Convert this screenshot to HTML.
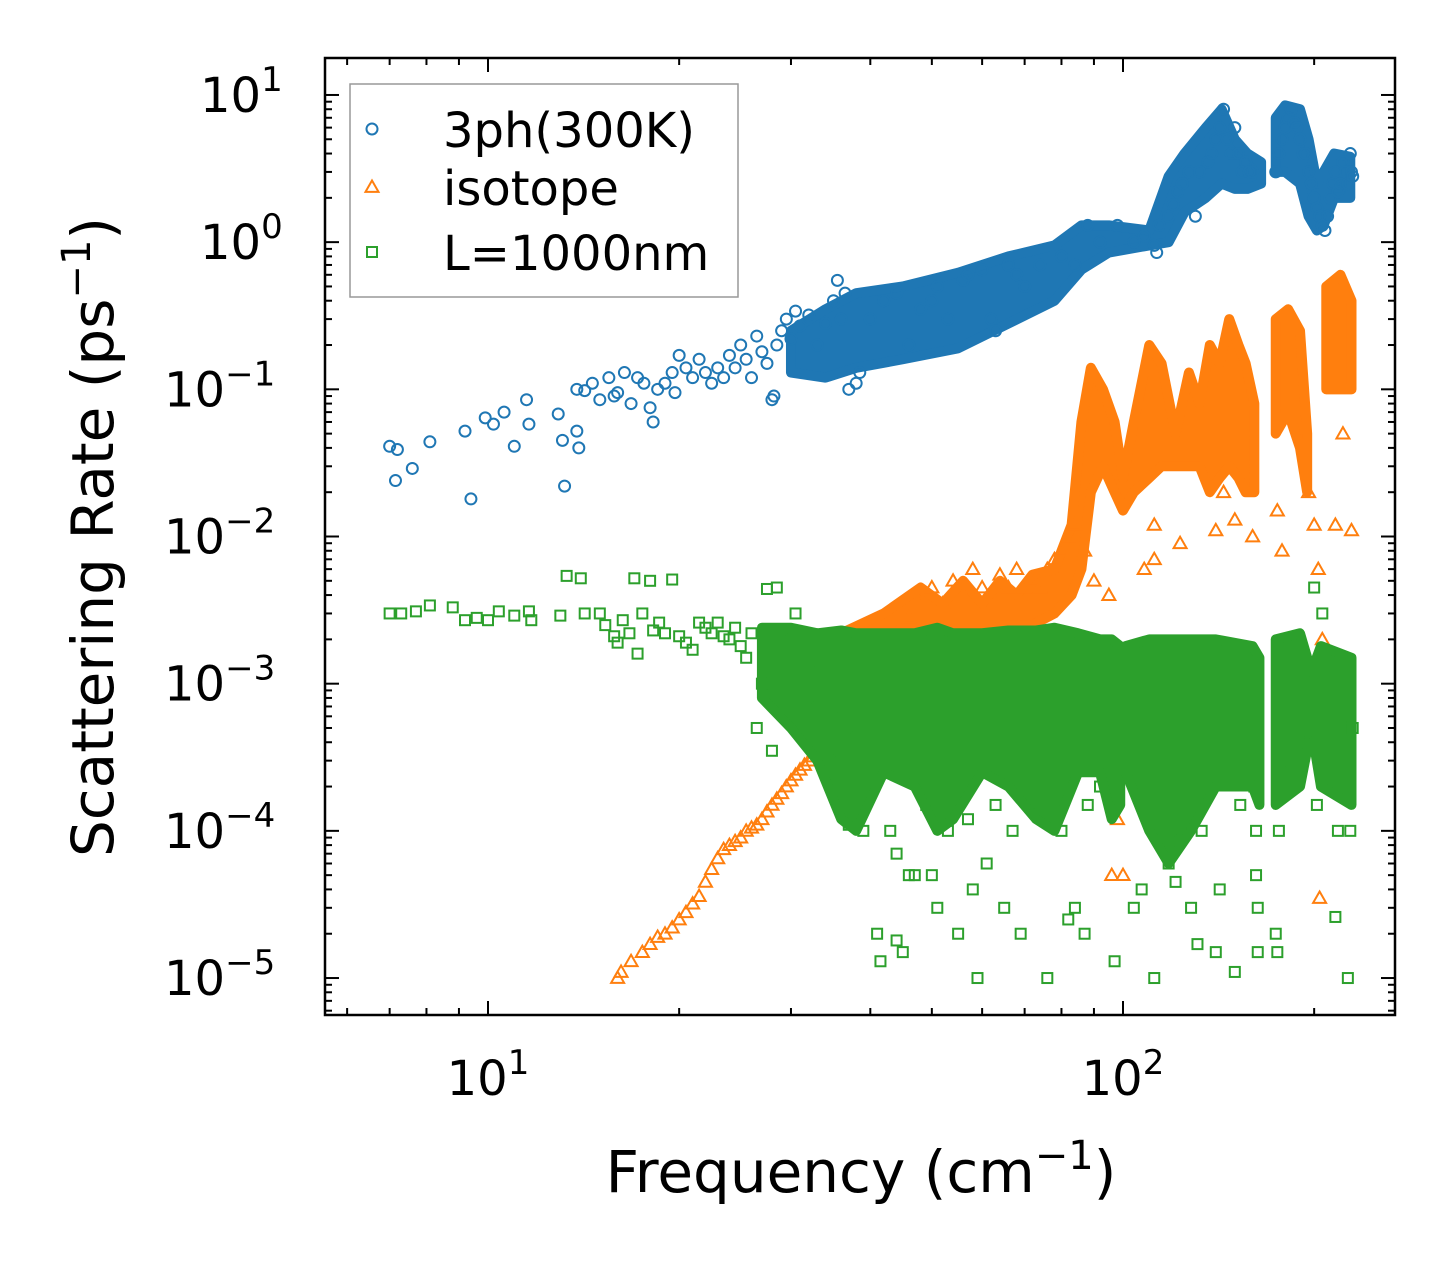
<!DOCTYPE html>
<html><head><meta charset="utf-8"><style>
body{margin:0;background:#fff;}
svg text{font-family:"DejaVu Sans","Liberation Sans",sans-serif;fill:#000;}
</style></head><body>
<svg id="chart" width="1455" height="1265" xmlns="http://www.w3.org/2000/svg">
<rect width="1455" height="1265" fill="#fff"/>
<g id="plot"></g>
<g id="axes"></g>
</svg>
<script>
const xTicksMajor = [10, 100];
const yTicksMajor = [1, 0, -1, -2, -3, -4, -5];
const threePh = [[7.0,0.041],[7.2,0.039],[7.15,0.024],[7.6,0.029],[8.1,0.044],[9.2,0.052],[9.4,0.018],[9.9,0.064],[10.2,0.058],[10.6,0.07],[11,0.041],[11.5,0.085],[11.6,0.058],[12.9,0.068],[13.1,0.045],[13.2,0.022],[13.8,0.052],[13.9,0.04],[13.8,0.1],[14.2,0.098],[14.6,0.11],[15,0.085],[15.5,0.12],[15.8,0.09],[16,0.095],[16.4,0.13],[16.8,0.08],[17.2,0.12],[17.6,0.11],[18,0.075],[18.2,0.06],[18.5,0.1],[19,0.11],[19.5,0.13],[19.7,0.095],[20,0.17],[20.5,0.14],[21,0.12],[21.5,0.16],[22,0.13],[22.5,0.11],[23,0.14],[23.5,0.12],[24,0.17],[24.5,0.14],[25,0.2],[25.5,0.16],[26,0.12],[26.5,0.23],[27,0.18],[27.5,0.15],[28,0.085],[28.2,0.09],[28.5,0.2],[29,0.25],[29.5,0.3],[30,0.22],[30.5,0.34],[31,0.27],[32,0.32],[33,0.2],[34,0.28],[35,0.4],[35.5,0.55],[36,0.3],[36.5,0.45],[37,0.1],[38,0.11],[38.5,0.13],[40,0.3],[42,0.4],[44,0.45],[46,0.2],[48,0.35],[50,0.4],[51,0.5],[53,0.3],[56,0.55],[57,0.6],[60,0.65],[62,0.3],[63,0.25],[66,0.7],[68,0.6],[70,0.5],[74,0.7],[80,0.8],[84,0.7],[88,1.3],[92,1.0],[98,1.3],[104,1.0],[108,1.1],[112,0.95],[113,0.85],[114,1.3],[118,1.5],[120,1.8],[122,2.2],[124,2.5],[127,3.0],[130,1.5],[132,3.0],[136,3.5],[138,4.0],[140,5.0],[142,6.0],[144,8.0],[146,5.0],[148,4.0],[150,6.0],[152,4.0],[154,3.0],[156,3.5],[158,3.0],[160,3.0],[174,3],[176,4],[178,5],[180,6],[182,7],[184,8],[186,6.5],[188,6],[190,5],[192,4],[194,4],[196,3],[198,2.5],[200,2],[202,1.7],[204,1.5],[206,1.3],[208,1.2],[210,1.5],[212,2],[214,2.5],[216,3],[218,2.2],[220,2.5],[222,3.5],[224,3],[226,2.5],[228,4],[229,3],[230,2.8]];
const isotope = [[16,1e-5],[16.2,1.1e-5],[16.8,1.3e-5],[17.5,1.5e-5],[18,1.7e-5],[18.5,1.9e-5],[19,2e-5],[19.5,2.2e-5],[20,2.5e-5],[20.5,2.8e-5],[21,3.2e-5],[21.5,3.6e-5],[22,4.5e-5],[22.5,5.5e-5],[23,6.5e-5],[23.5,7.5e-5],[24,8e-5],[24.5,8.5e-5],[25,9e-5],[25.5,1e-4],[26,1.05e-4],[26.5,1.1e-4],[27,1.2e-4],[27.5,1.35e-4],[28,1.5e-4],[28.5,1.65e-4],[29,1.8e-4],[29.5,2e-4],[30,2.2e-4],[30.5,2.4e-4],[31,2.6e-4],[31.5,2.8e-4],[32,3e-4],[32.5,3.2e-4],[33,3.5e-4],[33.5,3.8e-4],[34,4e-4],[34.5,4.5e-4],[35,5e-4],[35.5,6e-4],[36,7e-4],[36.5,8e-4],[37,9e-4],[37.5,1e-3],[38,1.1e-3],[40,1.4e-3],[42,1.8e-3],[44,2.2e-3],[46,2.8e-3],[48,3.5e-3],[50,4.5e-3],[52,3.5e-3],[54,5e-3],[56,4e-3],[58,6e-3],[60,4.5e-3],[62,4e-3],[64,5.5e-3],[66,4.5e-3],[68,6e-3],[70,4.5e-3],[72,5e-3],[74,4.5e-3],[76,6e-3],[78,7e-3],[80,8e-3],[82,1e-2],[84,0.012],[87,8e-3],[90,5e-3],[95,4e-3],[108,6e-3],[112,1.2e-2],[112,7e-3],[123,9e-3],[140,1.1e-2],[144,2e-2],[150,1.3e-2],[160,1e-2],[175,0.015],[178,0.008],[203,6e-3],[206,2e-3],[216,1.2e-2],[222,5e-2],[229,1.1e-2],[200,0.012],[196,0.02],[85,1e-3],[90,3e-4],[98,1.2e-4],[96,5e-5],[100,5e-5],[204,3.5e-5],[128,2e-4],[120,1.5e-4]];
const boundary = [[7.0,3e-3],[7.3,3e-3],[7.7,3.1e-3],[8.1,3.4e-3],[8.8,3.3e-3],[9.2,2.7e-3],[9.6,2.8e-3],[10,2.7e-3],[10.4,3.1e-3],[11,2.9e-3],[11.6,3.1e-3],[11.7,2.7e-3],[13,2.9e-3],[13.3,5.4e-3],[14,5.2e-3],[14.2,3e-3],[15,3e-3],[15.3,2.5e-3],[15.8,2.1e-3],[16,1.9e-3],[16.3,2.7e-3],[16.7,2.2e-3],[17,5.2e-3],[17.2,1.6e-3],[17.5,3e-3],[18,5e-3],[18.2,2.3e-3],[18.6,2.6e-3],[19,2.2e-3],[19.5,5.1e-3],[20,2.1e-3],[20.5,1.9e-3],[21,1.7e-3],[21.5,2.6e-3],[22,2.4e-3],[22.5,2.2e-3],[23,2.6e-3],[23.5,2.1e-3],[24,2e-3],[24.5,2.4e-3],[25,1.8e-3],[25.5,1.5e-3],[26,2.2e-3],[26.5,5e-4],[27,1e-3],[27.5,4.4e-3],[28,3.5e-4],[28.5,4.5e-3],[29,2e-3],[30.5,3e-3],[32,1.2e-3],[33,8e-4],[34.5,3.5e-4],[36,6e-4],[37,1.1e-4],[38,5e-4],[39,1e-4],[41,2e-5],[41.5,1.3e-5],[43,1e-4],[44,7e-5],[45,1.5e-5],[46,5e-5],[47,5e-5],[49,1.5e-4],[51,3e-5],[53,1e-4],[55,2e-5],[57,1.2e-4],[59,1e-5],[61,6e-5],[63,1.5e-4],[65,3e-5],[67,1e-4],[69,2e-5],[72,1.5e-4],[76,1e-5],[80,1e-4],[84,3e-5],[88,1.5e-4],[92,2e-4],[97,1.3e-5],[104,3e-5],[107,4e-5],[112,1e-5],[113,1e-4],[118,6e-5],[121,4.5e-5],[123,1e-4],[128,3e-5],[131,1.7e-5],[133,1e-4],[140,1.5e-5],[142,4e-5],[150,1.1e-5],[153,1.5e-4],[161,2e-4],[162,5e-5],[163,1.5e-5],[162,1e-4],[163,3e-5],[174,2e-5],[175,1.5e-5],[176,1e-4],[184,3e-4],[194,4e-4],[200,4.5e-3],[202,1.5e-4],[206,3e-3],[216,2.6e-5],[218,1e-4],[226,1e-5],[228,1e-4],[230,5e-4],[82,2.5e-5],[87,2e-5],[58,4e-5],[50,5e-5],[44,1.8e-5]];

// dense clouds: [frequency, low rate, high rate]
const blueCloud1 = [[30,0.13,0.25],[34,0.12,0.35],[38,0.14,0.45],[45,0.16,0.5],[55,0.19,0.62],[66,0.28,0.8],[78,0.4,0.95],[86,0.65,1.3],[95,0.85,1.3],[110,0.95,1.2],[118,1.0,2.8],[125,1.6,4],[135,2,6],[143,2.5,8],[150,2.3,5],[157,2.3,4],[165,2.5,3.5]];
const blueCloud2 = [[174,3,7],[180,3,8.5],[190,2.5,8],[196,1.5,5],[202,1.2,2.5],[207,1.3,3],[215,2,4],[228,2,3.8]];
const orangeCloud1 = [[36,6e-4,2.2e-3],[42,1.2e-3,3e-3],[48,2e-3,4.5e-3],[52,2e-3,3.5e-3],[56,2e-3,5e-3],[60,2e-3,3.5e-3],[64,2.5e-3,5e-3],[68,2.5e-3,4e-3],[72,2.5e-3,5.5e-3],[78,3e-3,6e-3],[83,4e-3,1.2e-2],[86,6e-3,0.06],[89,0.02,0.14],[93,0.03,0.1],[97,0.02,0.06],[100,0.015,0.025],[104,0.02,0.06],[110,0.025,0.2],[115,0.03,0.15],[121,0.03,0.05],[127,0.03,0.13],[132,0.03,0.08],[137,0.02,0.2],[142,0.025,0.15],[147,0.03,0.3],[152,0.025,0.2],[156,0.02,0.15],[161,0.02,0.08]];
const orangeCloud2 = [[174,0.05,0.3],[182,0.07,0.35],[190,0.04,0.25],[195,0.02,0.05]];
const orangeCloud3 = [[209,0.1,0.5],[220,0.1,0.6],[229,0.1,0.4]];
const greenCloud1 = [[27,8e-4,2.4e-3],[30,5e-4,2.4e-3],[33,3e-4,2.2e-3],[36,1.2e-4,2.3e-3],[38,1e-4,2.2e-3],[42,2.5e-4,2.2e-3],[47,2e-4,2.2e-3],[51,1e-4,2.4e-3],[54,1.2e-4,2.2e-3],[60,2.5e-4,2.2e-3],[66,2e-4,2.3e-3],[73,1.2e-4,2.3e-3],[78,1e-4,2.4e-3],[85,2.5e-4,2.2e-3],[92,2.5e-4,2e-3],[96,1.2e-4,2e-3],[99,1.5e-4,1.8e-3]];
const greenCloud2 = [[101,2.5e-4,1.8e-3],[110,1e-4,2e-3],[118,6e-5,2e-3],[128,1e-4,2e-3],[140,2e-4,2e-3],[160,2e-4,1.8e-3],[164,1.5e-4,1.5e-3]];
const greenCloud3 = [[174,1.5e-4,2e-3],[190,2e-4,2.2e-3],[198,5e-4,1.2e-3],[205,2e-4,1.8e-3],[229,1.5e-4,1.5e-3]];

const X0=325,X1=1395,Y0=58,Y1=1015;
const xLmin=1-163/635, xLmax=2+272/635;
const yLmax=1+37/147.3, yLmin=-5-37/147.3;
function xs(v){return X0+(Math.log10(v)-xLmin)/(xLmax-xLmin)*(X1-X0);}
function ys(v){return Y1-(Math.log10(v)-yLmin)/(yLmax-yLmin)*(Y1-Y0);}
const NS='http://www.w3.org/2000/svg';
const plot=document.getElementById('plot'), axes=document.getElementById('axes');
function mk(tag,attrs,parent){const e=document.createElementNS(NS,tag);for(const k in attrs)e.setAttribute(k,attrs[k]);parent.appendChild(e);return e;}
const blue='#1f77b4',orange='#ff7f0e',green='#2ca02c';
function circle(x,y,g){return mk('circle',{cx:x,cy:y,r:5.5,fill:'none',stroke:blue,'stroke-width':2},g);}
function tri(x,y,g){const s=6.5;return mk('polygon',{points:`${x},${y-s} ${x-s},${y+s*0.75} ${x+s},${y+s*0.75}`,fill:'none',stroke:orange,'stroke-width':2},g);}
function sq(x,y,g){const s=5;return mk('rect',{x:x-s,y:y-s,width:2*s,height:2*s,fill:'none',stroke:green,'stroke-width':2},g);}
function cloud(arr,color,g,name){
  const top=arr.map(r=>`${xs(r[0])},${ys(r[2])}`);
  const bot=arr.slice().reverse().map(r=>`${xs(r[0])},${ys(r[1])}`);
  const p=mk('polygon',{points:top.concat(bot).join(' '),fill:color,stroke:color,'stroke-width':10,'stroke-linejoin':'round'},g);
  
  
}
const gB=mk('g',{},plot);
const gO=mk('g',{},plot);
const gG=mk('g',{},plot);
cloud(blueCloud1,blue,gB,'cloud-3ph');cloud(blueCloud2,blue,gB,'cloud-3ph');
cloud(orangeCloud1,orange,gO,'cloud-isotope');cloud(orangeCloud2,orange,gO,'cloud-isotope');cloud(orangeCloud3,orange,gO,'cloud-isotope');
cloud(greenCloud1,green,gG,'cloud-boundary');cloud(greenCloud2,green,gG,'cloud-boundary');cloud(greenCloud3,green,gG,'cloud-boundary');
threePh.forEach(p=>{const e=circle(xs(p[0]),ys(p[1]),gB);

});
isotope.forEach(p=>{const e=tri(xs(p[0]),ys(p[1]),gO);

});
boundary.forEach(p=>{const e=sq(xs(p[0]),ys(p[1]),gG);

});

const fr=mk('rect',{x:X0,y:Y0,width:X1-X0,height:Y1-Y0,fill:'none',stroke:'#000','stroke-width':2.5},axes);


for(let d=0;d<=2;d++){for(let m=1;m<10;m++){const v=m*Math.pow(10,d);const x=xs(v);if(x<X0||x>X1)continue;const L=m===1?14:7;
mk('line',{x1:x,y1:Y1,x2:x,y2:Y1-L,stroke:'#000','stroke-width':2},axes);
mk('line',{x1:x,y1:Y0,x2:x,y2:Y0+L,stroke:'#000','stroke-width':2},axes);}}
xTicksMajor.forEach(v=>{const t=mk('text',{x:xs(v),y:1095,'font-size':48,'text-anchor':'middle'},axes);


t.innerHTML=`10<tspan dy="-21" font-size="34">${Math.round(Math.log10(v))}</tspan>`;});
for(let d=-6;d<=1;d++){for(let m=1;m<10;m++){const v=m*Math.pow(10,d);const y=ys(v);if(y<Y0||y>Y1)continue;const L=m===1?14:7;
mk('line',{x1:X0,y1:y,x2:X0+L,y2:y,stroke:'#000','stroke-width':2},axes);
mk('line',{x1:X1,y1:y,x2:X1-L,y2:y,stroke:'#000','stroke-width':2},axes);}}
yTicksMajor.forEach(e=>{const y=ys(Math.pow(10,e));const t=mk('text',{x:e<0?164:200,y:y+17,'font-size':48},axes);


t.innerHTML=`10<tspan dy="-21" font-size="34">${e<0?'\u2212'+(-e):e}</tspan>`;});
const xl=mk('text',{x:861,y:1192,'font-size':58,'text-anchor':'middle'},axes);


xl.innerHTML='Frequency (cm<tspan dy="-23" font-size="40">\u22121</tspan><tspan dy="23">)</tspan>';
const yl=mk('text',{x:0,y:0,'font-size':58,'text-anchor':'middle',transform:'translate(113,537) rotate(-90)'},axes);


yl.innerHTML='Scattering Rate (ps<tspan dy="-23" font-size="40">\u22121</tspan><tspan dy="23">)</tspan>';
const lg=mk('g',{},axes);
mk('rect',{x:350,y:84,width:388,height:213,fill:'#fff',stroke:'#999','stroke-width':1.5},lg);
const ents=[['3ph(300K)',circle,131],['isotope',tri,189],['L=1000nm',sq,254]];
ents.forEach(en=>{const m=en[1](372,en[2]-2,lg);


const t=mk('text',{x:443,y:en[2]+16,'font-size':48},lg);


t.textContent=en[0];});
</script>
</body></html>
